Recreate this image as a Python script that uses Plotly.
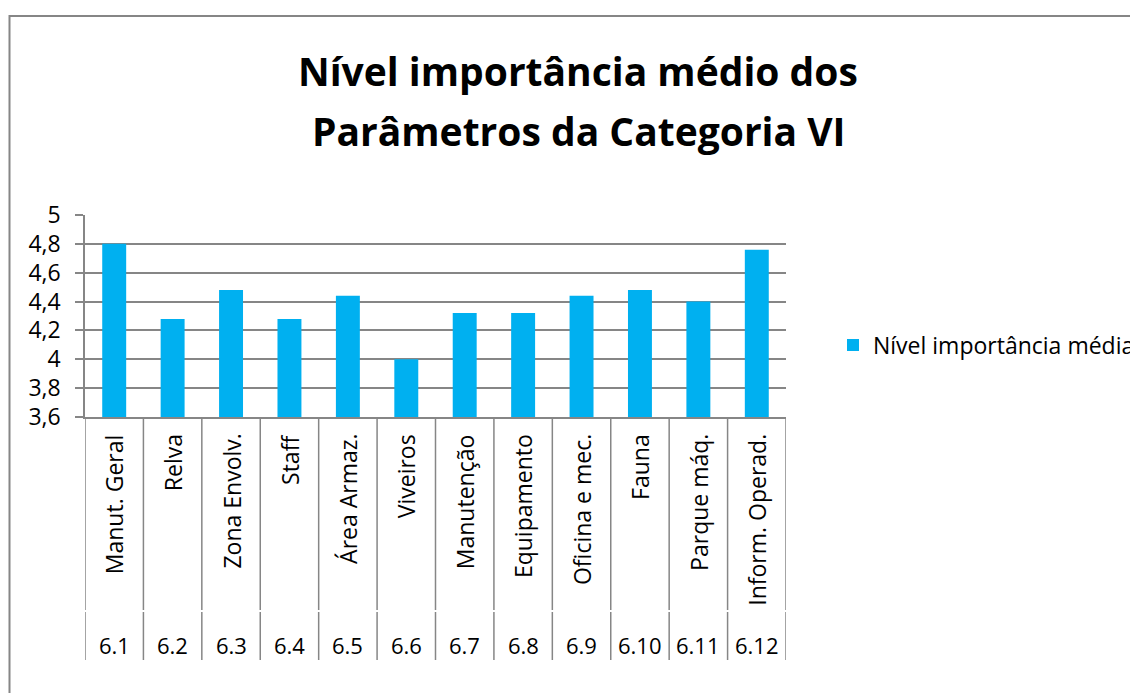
import plotly.graph_objects as go

groups = ["6.1", "6.2", "6.3", "6.4", "6.5", "6.6", "6.7", "6.8", "6.9", "6.10", "6.11", "6.12"]
categories = ["Manut. Geral", "Relva", "Zona Envolv.", "Staff", "Área Armaz.", "Viveiros",
              "Manutenção", "Equipamento", "Oficina e mec.", "Fauna", "Parque máq.", "Inform. Operad."]
values = [4.80, 4.28, 4.48, 4.28, 4.44, 4.00, 4.32, 4.32, 4.44, 4.48, 4.40, 4.76]
series_name = "Nível importância média"
title_lines = ["Nível importância médio dos", "Parâmetros da Categoria VI"]

OFF = 8  # page body margin
W, H = 1138 - OFF, 693 - OFF
L, R, T, B = 85 - OFF, 786 - OFF, 215 - OFF, 417 - OFF
FONT = "Open Sans"
GRAY = "#868686"

def px(x):
    return (x - OFF - L) / (R - L)

def py(y):
    return (B - (y - OFF)) / (B - T)

fig = go.Figure()
fig.add_trace(go.Bar(x=list(range(len(values))), y=values, name=series_name,
                     marker=dict(color="#00B0F0", line=dict(width=0)),
                     showlegend=True))

annotations = []
for t, yy in zip(title_lines, [70, 130]):
    annotations.append(dict(text="<b>" + t + "</b>", x=px(578), y=py(yy), xref="paper", yref="paper",
                            xanchor="center", yanchor="middle", showarrow=False,
                            font=dict(family=FONT, size=39, color="black")))
for i, c in enumerate(categories):
    annotations.append(dict(text=c, x=i, y=py(432), xref="x", yref="paper", textangle=-90,
                            xanchor="center", yanchor="top", showarrow=False,
                            font=dict(family=FONT, size=23, color="black")))
for i, g in enumerate(groups):
    annotations.append(dict(text=g, x=i, y=py(645), xref="x", yref="paper",
                            xanchor="center", yanchor="middle", showarrow=False,
                            font=dict(family=FONT, size=22, color="black")))

shapes = []
for i in range(len(groups) + 1):
    shapes.append(dict(type="line", xref="x", yref="paper", x0=i - 0.5, x1=i - 0.5,
                       y0=py(417), y1=py(610), line=dict(color=GRAY, width=1.5)))
    shapes.append(dict(type="line", xref="x", yref="paper", x0=i - 0.5, x1=i - 0.5,
                       y0=py(612), y1=py(660), line=dict(color=GRAY, width=1.5)))
# chart border (left edge kept just inside the figure)
shapes.append(dict(type="rect", xref="paper", yref="paper", x0=px(OFF + 1.5), x1=px(1160), y0=py(16), y1=py(720),
                   line=dict(color=GRAY, width=2), fillcolor="rgba(0,0,0,0)", layer="below"))

fig.update_layout(
    width=W, height=H,
    margin=dict(l=L, r=W - R, t=T, b=H - B, autoexpand=False),
    paper_bgcolor="white", plot_bgcolor="white",
    separators=",.",
    bargap=0.59,
    font=dict(family=FONT, size=20, color="black"),
    xaxis=dict(range=[-0.5, len(values) - 0.5], showticklabels=False, showgrid=False,
               zeroline=False, showline=True, linecolor=GRAY, linewidth=1.5, ticks=""),
    yaxis=dict(range=[3.6, 5.0], dtick=0.2, tick0=3.6, showgrid=True, gridcolor=GRAY, gridwidth=1.5,
               zeroline=False, showline=True, linecolor=GRAY, linewidth=1.5,
               ticks="outside", ticklen=8, tickcolor=GRAY, tickwidth=1.5,
               ticklabelstandoff=10, tickfont=dict(family=FONT, size=23, color="black")),
    legend=dict(x=px(833), y=py(345), xanchor="left", yanchor="middle",
                font=dict(family=FONT, size=23, color="black"), itemwidth=30,
                bgcolor="rgba(0,0,0,0)"),
    annotations=annotations,
    shapes=shapes,
)

fig.write_html("out.html")
